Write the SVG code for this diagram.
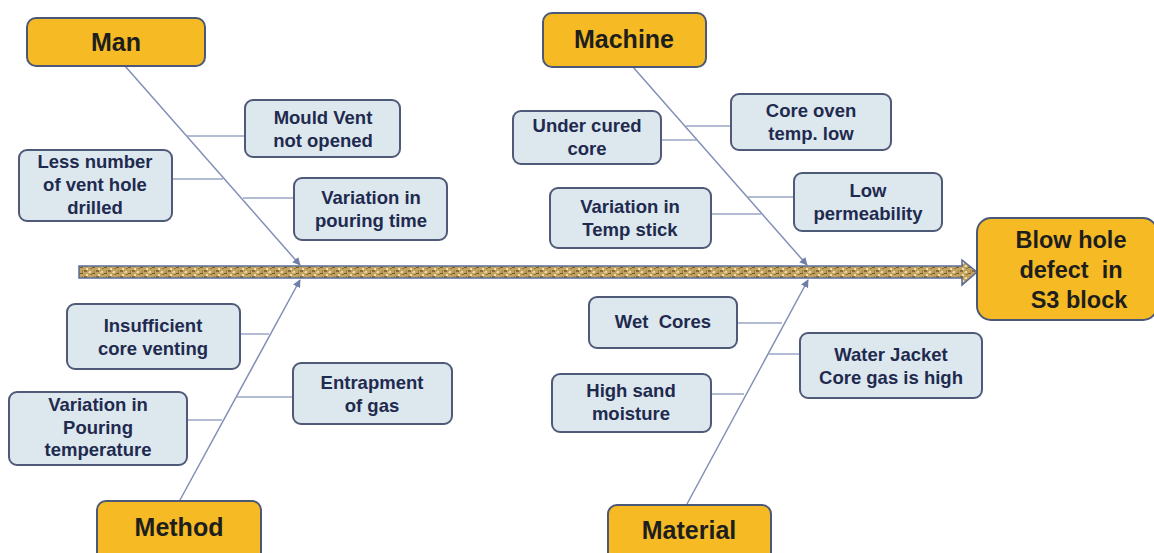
<svg xmlns="http://www.w3.org/2000/svg" width="1154" height="553" viewBox="0 0 1154 553">
<defs>
<style>
.cat{fill:#F5BA24;stroke:#4C5878;stroke-width:2}
.cause{fill:#DCE7EE;stroke:#4F5A78;stroke-width:2}
.ct{font-family:"Liberation Sans",Arial,sans-serif;font-weight:bold;font-size:25px;fill:#1E1E1E;text-anchor:middle}
.et{font-family:"Liberation Sans",Arial,sans-serif;font-weight:bold;font-size:23.5px;fill:#1E1E1E;text-anchor:middle}
.t{font-family:"Liberation Sans",Arial,sans-serif;font-weight:bold;font-size:18.5px;fill:#1F2A4F;text-anchor:middle}
.br{stroke:#8290B6;stroke-width:1.5;fill:none}
.tick{stroke:#9AA6C4;stroke-width:1.5;fill:none}
</style>
<marker id="ah" viewBox="0 0 10 10" refX="9" refY="5" markerWidth="8" markerHeight="8" markerUnits="userSpaceOnUse" orient="auto">
<path d="M0,0 L10,5 L0,10 z" fill="#6F7EA8"/>
</marker>
<pattern id="tex" width="12" height="6" patternUnits="userSpaceOnUse">
<rect width="12" height="6" fill="#C2A35E"/>
<rect x="0" y="0" width="3" height="2" fill="#86693C"/>
<rect x="5" y="1" width="2" height="2" fill="#EADAA8"/>
<rect x="8" y="3" width="3" height="1" fill="#765C34"/>
<rect x="2" y="4" width="2" height="2" fill="#EFE0B4"/>
<rect x="10" y="0" width="1" height="3" fill="#A2844F"/>
<rect x="6" y="4" width="2" height="1" fill="#947646"/>
<rect x="4" y="2" width="1" height="1" fill="#D9C48E"/>
</pattern>
</defs>
<rect width="1154" height="553" fill="#FFFFFF"/>

<g id="connectors">
<polygon points="79,266 962,266 962,260 977,272 962,285 962,278 79,278" fill="url(#tex)" stroke="#5B6B94" stroke-width="1.5"/>
<line class="br" x1="125" y1="66" x2="300" y2="265" marker-end="url(#ah)"/>
<line class="br" x1="633" y1="67" x2="807" y2="265" marker-end="url(#ah)"/>
<line class="br" x1="180" y1="500" x2="300" y2="280" marker-end="url(#ah)"/>
<line class="br" x1="687" y1="504" x2="808" y2="280" marker-end="url(#ah)"/>
<line class="tick" x1="187" y1="136" x2="245" y2="136"/>
<line class="tick" x1="172" y1="179" x2="223" y2="179"/>
<line class="tick" x1="243" y1="198" x2="294" y2="198"/>
<line class="tick" x1="686" y1="126" x2="731" y2="126"/>
<line class="tick" x1="661" y1="140" x2="698" y2="140"/>
<line class="tick" x1="748" y1="197" x2="794" y2="197"/>
<line class="tick" x1="711" y1="214" x2="761" y2="214"/>
<line class="tick" x1="240" y1="334" x2="269" y2="334"/>
<line class="tick" x1="237" y1="397" x2="293" y2="397"/>
<line class="tick" x1="187" y1="420" x2="222" y2="420"/>
<line class="tick" x1="737" y1="323" x2="782" y2="323"/>
<line class="tick" x1="768" y1="354" x2="800" y2="354"/>
<line class="tick" x1="711" y1="394" x2="744" y2="394"/>
</g>

<g id="man"><rect class="cat" x="27" y="18" width="178" height="48" rx="9"/><text class="ct" x="116" y="51">Man</text></g>
<g id="machine"><rect class="cat" x="543" y="13" width="163" height="54" rx="9"/><text class="ct" x="624" y="48">Machine</text></g>
<g id="method"><rect class="cat" x="97" y="501" width="164" height="62" rx="9"/><text class="ct" x="179" y="536">Method</text></g>
<g id="material"><rect class="cat" x="608" y="505" width="163" height="58" rx="9"/><text class="ct" x="689" y="539">Material</text></g>
<g id="effect"><rect class="cat" x="977" y="218" width="180" height="102" rx="14"/>
<text class="et" x="1071" y="248">Blow hole</text><text class="et" x="1071" y="278" xml:space="preserve">defect  in</text><text class="et" x="1079" y="308">S3 block</text></g>

<g id="mould-vent"><rect class="cause" x="245" y="100" width="155" height="57" rx="8"/><text class="t" x="323" y="124">Mould Vent</text><text class="t" x="323" y="147">not opened</text></g>
<g id="less-number"><rect class="cause" x="19" y="150" width="153" height="71" rx="8"/><text class="t" x="95" y="168">Less number</text><text class="t" x="95" y="191">of vent hole</text><text class="t" x="95" y="214">drilled</text></g>
<g id="pouring-time"><rect class="cause" x="294" y="178" width="153" height="62" rx="8"/><text class="t" x="371" y="204">Variation in</text><text class="t" x="371" y="227">pouring time</text></g>
<g id="under-cured"><rect class="cause" x="513" y="111" width="148" height="53" rx="8"/><text class="t" x="587" y="132">Under cured</text><text class="t" x="587" y="155">core</text></g>
<g id="core-oven"><rect class="cause" x="731" y="94" width="160" height="56" rx="8"/><text class="t" x="811" y="117">Core oven</text><text class="t" x="811" y="140">temp. low</text></g>
<g id="low-perm"><rect class="cause" x="794" y="173" width="148" height="58" rx="8"/><text class="t" x="868" y="197">Low</text><text class="t" x="868" y="220">permeability</text></g>
<g id="temp-stick"><rect class="cause" x="550" y="188" width="161" height="60" rx="8"/><text class="t" x="630" y="213">Variation in</text><text class="t" x="630" y="236">Temp stick</text></g>
<g id="insufficient"><rect class="cause" x="67" y="304" width="173" height="65" rx="8"/><text class="t" x="153" y="332">Insufficient</text><text class="t" x="153" y="355">core venting</text></g>
<g id="entrapment"><rect class="cause" x="293" y="363" width="159" height="61" rx="8"/><text class="t" x="372" y="389">Entrapment</text><text class="t" x="372" y="412">of gas</text></g>
<g id="pouring-temp"><rect class="cause" x="9" y="392" width="178" height="73" rx="8"/><text class="t" x="98" y="411">Variation in</text><text class="t" x="98" y="434">Pouring</text><text class="t" x="98" y="456">temperature</text></g>
<g id="wet-cores"><rect class="cause" x="589" y="297" width="148" height="51" rx="8"/><text class="t" x="663" y="328" xml:space="preserve">Wet  Cores</text></g>
<g id="water-jacket"><rect class="cause" x="800" y="333" width="182" height="65" rx="8"/><text class="t" x="891" y="361">Water Jacket</text><text class="t" x="891" y="384">Core gas is high</text></g>
<g id="sand-moisture"><rect class="cause" x="552" y="374" width="159" height="58" rx="8"/><text class="t" x="631" y="397">High sand</text><text class="t" x="631" y="420">moisture</text></g>
</svg>
